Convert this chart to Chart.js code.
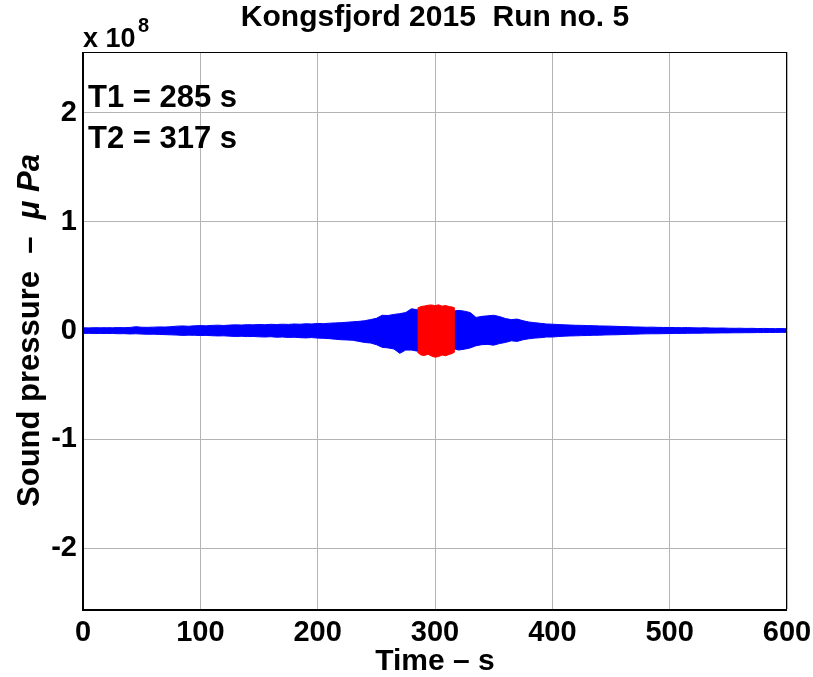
<!DOCTYPE html>
<html>
<head>
<meta charset="utf-8">
<script src="https://cdn.jsdelivr.net/npm/chart.js@4.4.1/dist/chart.umd.min.js"></script>
<style>
  html, body { margin: 0; padding: 0; background: #fff; }
  canvas { display: block; }
</style>
</head>
<body>
<canvas id="runChart" width="813" height="677"></canvas>
<script>
    // pressure envelope, in units of 1e8 uPa (the axis shows "x 10^8")
    var blueTimes = [
        0, 5, 10, 15, 20, 25, 30, 35, 40, 45,
        50, 55, 60, 65, 70, 75, 80, 85, 90, 95,
        100, 105, 110, 115, 120, 125, 130, 135, 140, 145,
        150, 155, 160, 165, 170, 175, 180, 185, 190, 195,
        200, 205, 210, 215, 220, 225, 230, 235, 240, 245,
        250, 255, 260, 265, 270, 275, 280, 285,
        317, 320, 325, 330, 335, 340, 345, 350, 355, 360,
        365, 370, 375, 380, 385, 390, 395, 400, 405, 410,
        415, 420, 425, 430, 435, 440, 445, 450, 455, 460,
        465, 470, 475, 480, 485, 490, 495, 500, 505, 510,
        515, 520, 525, 530, 535, 540, 545, 550, 555, 560,
        565, 570, 575, 580, 585, 590, 595, 600
    ];
    var blueUpper = [
        0.025, 0.024, 0.026, 0.025, 0.026, 0.025, 0.027, 0.026, 0.028, 0.035,
        0.030, 0.029, 0.031, 0.033, 0.032, 0.035, 0.040, 0.042, 0.039, 0.043,
        0.045, 0.043, 0.047, 0.049, 0.046, 0.050, 0.052, 0.050, 0.054, 0.052,
        0.055, 0.053, 0.057, 0.055, 0.058, 0.056, 0.060, 0.058, 0.062, 0.060,
        0.065, 0.063, 0.067, 0.070, 0.072, 0.076, 0.080, 0.084, 0.090, 0.100,
        0.112, 0.140, 0.138, 0.148, 0.155, 0.165, 0.200, 0.190,
        0.180, 0.185, 0.178, 0.165, 0.120, 0.130, 0.135, 0.140, 0.128, 0.110,
        0.100, 0.105, 0.090, 0.078, 0.072, 0.066, 0.060, 0.058, 0.055, 0.052,
        0.050, 0.048, 0.047, 0.045, 0.044, 0.042, 0.041, 0.040, 0.038, 0.036,
        0.035, 0.033, 0.032, 0.030, 0.031, 0.029, 0.028, 0.028, 0.027, 0.026,
        0.027, 0.025, 0.024, 0.025, 0.023, 0.022, 0.023, 0.021, 0.020, 0.021,
        0.019, 0.020, 0.018, 0.019, 0.018, 0.017, 0.018, 0.016
    ];
    var blueLower = [
        -0.027, -0.026, -0.028, -0.027, -0.028, -0.027, -0.030, -0.029, -0.032, -0.030,
        -0.033, -0.035, -0.034, -0.036, -0.038, -0.040, -0.042, -0.045, -0.043, -0.044,
        -0.046, -0.045, -0.048, -0.050, -0.049, -0.052, -0.055, -0.053, -0.056, -0.055,
        -0.058, -0.060, -0.057, -0.062, -0.060, -0.064, -0.062, -0.066, -0.068, -0.065,
        -0.070, -0.072, -0.075, -0.080, -0.085, -0.087, -0.090, -0.100, -0.110, -0.115,
        -0.130, -0.155, -0.160, -0.170, -0.210, -0.180, -0.180, -0.190,
        -0.170, -0.180, -0.172, -0.160, -0.140, -0.130, -0.128, -0.135, -0.120, -0.110,
        -0.095, -0.100, -0.085, -0.076, -0.070, -0.066, -0.060, -0.060, -0.056, -0.052,
        -0.050, -0.049, -0.047, -0.046, -0.044, -0.043, -0.041, -0.040, -0.039, -0.037,
        -0.035, -0.034, -0.032, -0.031, -0.030, -0.030, -0.029, -0.028, -0.027, -0.027,
        -0.026, -0.025, -0.025, -0.024, -0.024, -0.023, -0.022, -0.022, -0.021, -0.021,
        -0.020, -0.020, -0.019, -0.019, -0.018, -0.018, -0.017, -0.017
    ];

    // the T1..T2 window, drawn in red on top
    var redTimes = [285, 288, 291, 294, 297, 300, 303, 306, 309, 312, 315, 317];
    var redUpper = [0.205, 0.220, 0.225, 0.232, 0.235, 0.228, 0.236, 0.224, 0.230, 0.220, 0.215, 0.205];
    var redLower = [-0.200, -0.225, -0.230, -0.218, -0.235, -0.245, -0.240, -0.225, -0.232, -0.220, -0.210, -0.195];

    var xTicks = [0, 100, 200, 300, 400, 500, 600];
    var yTicks = [-2, -1, 0, 1, 2];

    var T1 = 285, T2 = 317;
    var FONT = '"Liberation Sans", Arial, Helvetica, sans-serif';

    function pts(times, vals) {
        return times.map(function(t, i) { return {x: t, y: vals[i]}; });
    }

    function band(label, color, times, vals, fill) {
        return {
            label: label,
            data: pts(times, vals),
            borderColor: color,
            backgroundColor: color,
            borderWidth: 1,
            pointRadius: 0,
            tension: 0,
            fill: fill
        };
    }

    // axes box, title, exponent, T1/T2 note and y label
    var matlabText = {
        id: 'matlabText',
        afterDraw: function(chart) {
            var ctx = chart.ctx, a = chart.chartArea;
            ctx.save();

            ctx.strokeStyle = '#000';
            ctx.lineWidth = 1;
            ctx.strokeRect(a.left + 0.5, a.top + 0.5, a.right - a.left - 1, a.bottom - a.top);
            ctx.lineWidth = 2;
            ctx.beginPath();
            ctx.moveTo(a.left, a.top);
            ctx.lineTo(a.left, a.bottom + 1);
            ctx.lineTo(a.right, a.bottom + 1);
            ctx.stroke();

            ctx.fillStyle = '#000';
            ctx.textBaseline = 'alphabetic';

            ctx.textAlign = 'center';
            ctx.font = 'bold 30px ' + FONT;
            ctx.fillText('Kongsfjord 2015  Run no. 5', (a.left + a.right) / 2, 26);

            ctx.textAlign = 'left';
            ctx.font = 'bold 27px ' + FONT;
            ctx.fillText('x 10', a.left, 47);
            ctx.font = 'bold 20px ' + FONT;
            ctx.fillText('8', 138, 32);

            ctx.font = 'bold 31px ' + FONT;
            ctx.fillText('T1 = ' + T1 + ' s', 88, 107);
            ctx.fillText('T2 = ' + T2 + ' s', 88, 148);

            // y label: plain part plus italic unit
            var part1 = 'Sound pressure  \u2013  ', part2 = '\u03bc Pa';
            var f1 = 'bold 31px ' + FONT, f2 = 'italic bold 31px ' + FONT;
            ctx.font = f1;
            var w1 = ctx.measureText(part1).width;
            ctx.font = f2;
            var w2 = ctx.measureText(part2).width;
            ctx.translate(30, (a.top + a.bottom) / 2);
            ctx.rotate(-Math.PI / 2);
            ctx.textBaseline = 'middle';
            ctx.font = f1;
            ctx.fillText(part1, -(w1 + w2) / 2, 0);
            ctx.font = f2;
            ctx.fillText(part2, -(w1 + w2) / 2 + w1, 0);

            ctx.restore();
        }
    };

    var ctx = document.getElementById('runChart').getContext('2d');
    var runChart = new Chart(ctx, {
        type: 'line',
        data: {
            datasets: [
                band('T1-T2 upper', '#ff0000', redTimes, redUpper, false),
                band('T1-T2 lower', '#ff0000', redTimes, redLower, '-1'),
                band('upper', '#0000ff', blueTimes, blueUpper, false),
                band('lower', '#0000ff', blueTimes, blueLower, '-1')
            ]
        },
        options: {
            responsive: false,
            animation: false,
            devicePixelRatio: 1,
            layout: { padding: { top: 52, right: 26, left: 0, bottom: 0 } },
            plugins: {
                legend: { display: false },
                tooltip: { enabled: false },
                title: { display: false }
            },
            scales: {
                x: {
                    type: 'linear',
                    min: xTicks[0],
                    max: xTicks[xTicks.length - 1],
                    afterBuildTicks: function(s) { s.ticks = xTicks.map(function(v) { return {value: v}; }); },
                    afterFit: function(s) {
                        s.height = 68;
                        s.paddingLeft = 0;
                        s.paddingRight = 0;
                    },
                    border: { display: false },
                    grid: { color: '#b4b4b4', lineWidth: 1, drawTicks: false },
                    ticks: {
                        color: '#000',
                        padding: 7,
                        maxRotation: 0,
                        font: { family: FONT, size: 29, weight: 'bold' }
                    },
                    title: {
                        display: true,
                        text: 'Time \u2013 s',
                        color: '#000',
                        padding: { top: -3, bottom: -3 },
                        font: { family: FONT, size: 30, weight: 'bold' }
                    }
                },
                y: {
                    min: -2.56,
                    max: 2.56,
                    afterBuildTicks: function(s) { s.ticks = yTicks.map(function(v) { return {value: v}; }); },
                    afterFit: function(s) { s.width = 83; },
                    border: { display: false },
                    grid: { color: '#b4b4b4', lineWidth: 1, drawTicks: false },
                    ticks: {
                        color: '#000',
                        padding: 6,
                        font: { family: FONT, size: 29, weight: 'bold' },
                        callback: function(v) { return String(v); }
                    }
                }
            }
        },
        plugins: [matlabText]
    });
</script>
</body>
</html>
